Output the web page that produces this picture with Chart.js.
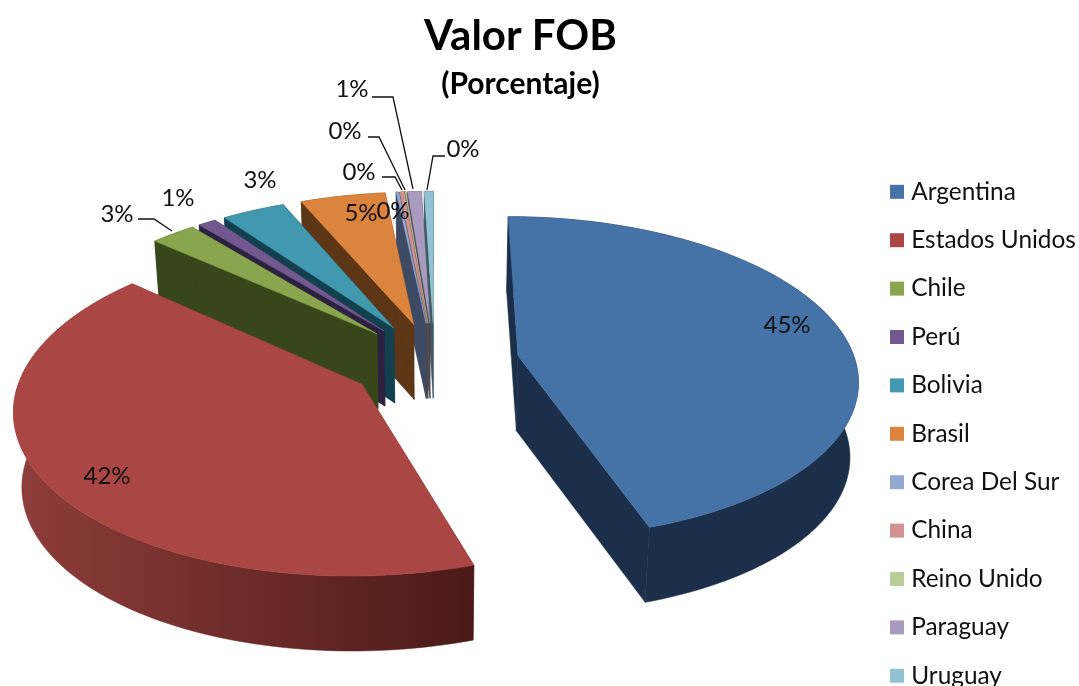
<!DOCTYPE html>
<html><head><meta charset="utf-8">
<style>html,body{margin:0;padding:0;background:#fff}#w{width:1079px;height:686px}</style>
<script src="https://cdn.jsdelivr.net/npm/chart.js@4"></script></head>
<body><div id="w"><canvas id="c" width="1079" height="686"></canvas></div>
<script>
const categories=['Argentina','Estados Unidos','Chile','Perú','Bolivia','Brasil','Corea Del Sur','China','Reino Unido','Paraguay','Uruguay'];
const values=[44.8,41.4,2.5,1.0,3.5,4.7,0.15,0.25,0.05,0.75,0.5];
const topColors=['#4572A7','#AA4643','#89A54E','#71588F','#4198AF','#DB843D','#93A9CF','#D19392','#B9CD96','#A99BBD','#92C3D3'];
const wallColors=['#1b2f4a','#7a2f2d','#374719','#2c2140','#12404f','#5c3615','#3d4a63','#5a3f3f','#55603f','#4a4358','#3e5a63'];
const labelTexts=['45%','42%','3%','1%','3%','5%','0%','0%','0%','1%','0%'];
const labelSpots=[[787,325],[107,476],[117,214],[178,198],[260,180],[361,213],[393,211],[359,172],[345,131],[352,89],[463,149]];
const leaders=[[[138,219],[154,219],[172,231]],[[382,177],[395,177],[402,190]],[[368,137],[379,137],[405,190]],[[372,97],[393,97],[413,189]],[[445,156],[433,156],[427,190]]];
const view={cx:434.5,cy:362,k:0.472,D:2514,R:337.5,depth:75,explode:85,taper:0.02};
const P=(X,Y,z)=>{const f=view.D/(view.D-Y)*(1-view.taper*z/view.depth);return [view.cx+X*f,view.cy+view.k*Y*view.D/(view.D-Y)+z];};
function poly(ctx,pts,fill){ctx.beginPath();pts.forEach((p,i)=>i?ctx.lineTo(p[0],p[1]):ctx.moveTo(p[0],p[1]));ctx.closePath();ctx.fillStyle=fill;ctx.fill();ctx.strokeStyle=fill;ctx.lineWidth=0.5;ctx.stroke();}
const pie3d={id:'pie3d',
 afterLayout(chart){
  chart.boxes.forEach(b=>{ if(b.options&&b.options.text!==undefined&&b.isHorizontal&&b.position==='top'){b.left-=19;b.right-=19;} });
  const lg=chart.legend; const pad=lg.options.labels.padding; lg.left=895-pad; lg.right=1079; lg.bottom=686+LEG_BOTTOM;
 },
 beforeDatasetsDraw(chart){
  const ctx=chart.ctx, arcs=chart.getDatasetMeta(0).data;
  const items=arcs.map((a,i)=>{const s=a.startAngle,e=a.endAngle,m=(s+e)/2,off=view.explode;
    return {i,s,e,ox:Math.cos(m)*off,oy:Math.sin(m)*off};});
  items.sort((a,b)=>a.oy-b.oy);
  items.forEach(it=>{
   const rim=[],n=Math.max(4,Math.ceil((it.e-it.s)*40));
   for(let j=0;j<=n;j++){const a=it.s+(it.e-it.s)*j/n;rim.push([it.ox+Math.cos(a)*view.R,it.oy+Math.sin(a)*view.R]);}
   const A=[it.ox,it.oy],Z=view.depth,w=wallColors[it.i];
   const top=[P(A[0],A[1],0),...rim.map(p=>P(p[0],p[1],0))];
   const first=rim[0],last=rim[n];
   poly(ctx,[P(A[0],A[1],0),P(first[0],first[1],0),P(first[0],first[1],Z),P(A[0],A[1],Z)],w);
   poly(ctx,[P(A[0],A[1],0),P(last[0],last[1],0),P(last[0],last[1],Z),P(A[0],A[1],Z)],w);
   const strip=[...rim.map(p=>P(p[0],p[1],0)),...rim.slice().reverse().map(p=>P(p[0],p[1],Z))];
   let wallFill=w;
   if(it.i===1){const g=ctx.createLinearGradient(12,0,476,0);g.addColorStop(0,'#8f3d3b');g.addColorStop(1,'#4a1a17');wallFill=g;}
   poly(ctx,strip,wallFill);
   poly(ctx,top,topColors[it.i]);
  });
  ctx.save();
  ctx.fillStyle='#111';ctx.font='24px Lato';ctx.textAlign='center';ctx.textBaseline='middle';
  labelTexts.forEach((t,i)=>ctx.fillText(t,labelSpots[i][0],labelSpots[i][1]));
  ctx.strokeStyle='#111';ctx.lineWidth=1.3;
  leaders.forEach(l=>{ctx.beginPath();l.forEach((p,i)=>i?ctx.lineTo(p[0],p[1]):ctx.moveTo(p[0],p[1]));ctx.stroke();});
  ctx.restore();
  return false;
 }};
const LEG_BOTTOM=26;
new Chart(document.getElementById('c'),{type:'pie',
 data:{labels:categories,datasets:[{data:values,backgroundColor:topColors,borderWidth:0,offset:85}]},
 plugins:[pie3d],
 options:{responsive:false,animation:false,rotation:0,events:[],
  layout:{padding:0},
  plugins:{
   tooltip:{enabled:false},
   title:{display:true,text:'Valor FOB',color:'#000',font:{family:'Lato',size:42,weight:'bold',lineHeight:1.2},padding:{top:11,bottom:0}},
   subtitle:{display:true,text:'(Porcentaje)',color:'#000',font:{family:'Lato',size:30,weight:'bold',lineHeight:1.2},padding:{top:5,bottom:0}},
   legend:{position:'right',align:'end',labels:{usePointStyle:true,pointStyle:'rect',boxWidth:4,boxHeight:14,padding:24,color:'#111',font:{family:'Lato',size:24.4}}}
  }}});
</script></body></html>
